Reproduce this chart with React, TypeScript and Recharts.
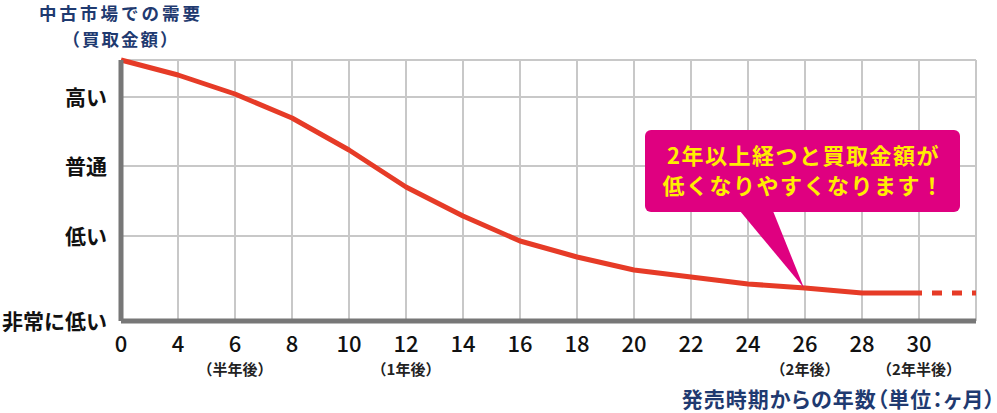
import React from "react";
import { LineChart, Line, XAxis, YAxis, CartesianGrid, ReferenceDot } from "recharts";

const monthLabels = ["0", "4", "6", "8", "10", "12", "14", "16", "18", "20", "22", "24", "26", "28", "30", ""];
const periodNotes = ["", "", "（半年後）", "", "", "（1年後）", "", "", "", "", "", "", "（2年後）", "", "（2年半後）", ""];
const demand = [261, 246, 227, 203, 171, 134, 105, 80, 64, 51, 44, 37, 33, 28, 28];
const projected = [28, 28];
const projectedStart = 14;
const yLevels = [0, 85, 155, 224];
const yLabels = ["非常に低い", "低い", "普通", "高い"];
const calloutIndex = 12;
const calloutLines = ["2年以上経つと買取金額が", "低くなりやすくなります！"];

const data = monthLabels.map((label, i) => ({
  i,
  demand: i < demand.length ? demand[i] : null,
  projected: i >= projectedStart && i - projectedStart < projected.length ? projected[i - projectedStart] : null,
}));

const FONT = '"Noto Sans CJK JP", "Noto Sans", sans-serif';
const NAVY = "#1f3a70";
const RED = "#e63b27";

const XTick = (props: any) => {
  const { x, y, payload } = props;
  const idx = payload.value as number;
  return (
    <g>
      <text x={x} y={y + 31} textAnchor="middle" fontFamily={FONT} fontSize={22} fontWeight={500} fill="#111">
        {monthLabels[idx]}
      </text>
      {periodNotes[idx] ? (
        <text x={x} y={y + 54} textAnchor="middle" fontFamily={FONT} fontSize={15} fontWeight={700} fill="#222">
          {periodNotes[idx]}
        </text>
      ) : null}
    </g>
  );
};

const YTick = (props: any) => {
  const { x, y, payload } = props;
  const idx = yLevels.indexOf(payload.value);
  return (
    <text x={x} y={y + 8} textAnchor="end" fontFamily={FONT} fontSize={21} fontWeight={700} fill="#111">
      {yLabels[idx]}
    </text>
  );
};

const Callout = (props: any) => {
  const { cx, cy } = props;
  const left = cx - 160;
  const right = cx + 155;
  const top = cy - 158;
  const bottom = cy - 76;
  const mid = (left + right) / 2;
  return (
    <g>
      <rect x={left} y={top} width={right - left} height={bottom - top} rx={6} ry={6} fill="#df0080" />
      <polygon points={`${cx - 65},${bottom - 1} ${cx - 32},${bottom - 1} ${cx - 1},${cy}`} fill="#df0080" />
      {calloutLines.map((t, k) => (
        <text
          key={k}
          x={mid + 1}
          y={top + 34 + k * 30}
          textAnchor="middle"
          fontFamily={FONT}
          fontSize={22}
          fontWeight={700}
          fill="#ffed00"
          letterSpacing={1.5}
        >
          {t}
        </text>
      ))}
    </g>
  );
};

export default function App() {
  const ticks = monthLabels.map((_, i) => i);
  return (
    <div style={{ position: "absolute", left: 0, top: 0, width: 997, height: 413, background: "#fff" }}>
      <LineChart width={997} height={413} data={data} margin={{ top: 60, right: 21, bottom: 0, left: 0 }}>
        <CartesianGrid stroke="#c8c8c8" strokeWidth={2} />
        <XAxis
          type="number"
          dataKey="i"
          domain={[0, monthLabels.length - 1]}
          ticks={ticks}
          interval={0}
          height={92}
          tickLine={false}
          tickSize={0}
          tickMargin={0}
          axisLine={{ stroke: "#777", strokeWidth: 5 }}
          tick={<XTick />}
        />
        <YAxis
          type="number"
          domain={[0, 261]}
          ticks={yLevels}
          interval={0}
          width={121}
          tickLine={false}
          tickSize={0}
          tickMargin={14}
          axisLine={{ stroke: "#777", strokeWidth: 5 }}
          tick={<YTick />}
        />
        <Line
          type="linear"
          dataKey="demand"
          stroke={RED}
          strokeWidth={5}
          dot={false}
          strokeLinejoin="round"
          isAnimationActive={false}
          connectNulls={false}
        />
        <Line
          type="linear"
          dataKey="projected"
          stroke={RED}
          strokeWidth={5}
          dot={false}
          strokeDasharray="10 10"
          strokeDashoffset={7}
          isAnimationActive={false}
        />
        <ReferenceDot x={calloutIndex} y={demand[calloutIndex]} r={0} ifOverflow="visible" shape={<Callout />} />
      </LineChart>
      <svg width={997} height={413} style={{ position: "absolute", left: 0, top: 0, pointerEvents: "none" }}>
        <text x={121} y={20} textAnchor="middle" fontFamily={FONT} fontSize={17.5} fontWeight={700} fill={NAVY} letterSpacing={3}>
          中古市場での需要
        </text>
        <text x={121} y={45.5} textAnchor="middle" fontFamily={FONT} fontSize={17.5} fontWeight={700} fill={NAVY} letterSpacing={2}>
          （買取金額）
        </text>
        <text
          x={996}
          y={407}
          textAnchor="end"
          fontFamily={FONT}
          fontSize={21}
          fontWeight={700}
          fill={NAVY}
          letterSpacing={1}
          style={{ fontFeatureSettings: '"palt"' }}
        >
          発売時期からの年数（単位：ヶ月）
        </text>
      </svg>
    </div>
  );
}
